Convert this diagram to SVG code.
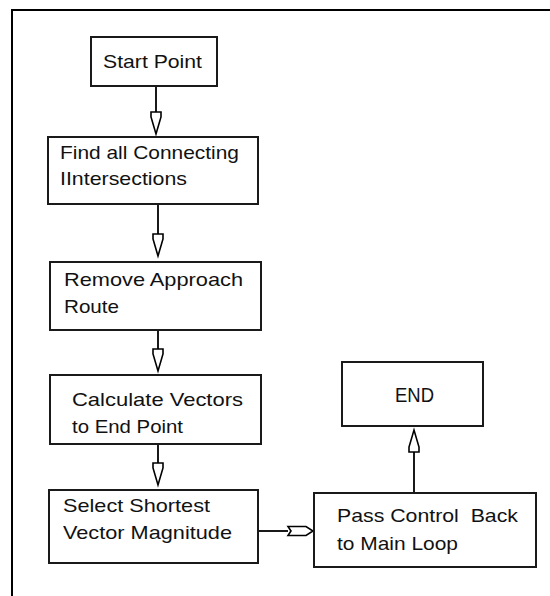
<svg xmlns="http://www.w3.org/2000/svg" width="550" height="596" viewBox="0 0 550 596">
  <style>
    .box { fill: #ffffff; stroke: #1a1a1a; stroke-width: 2; }
    .lbl { font-family: "Liberation Sans", Arial, sans-serif; font-size: 19px; fill: #111111; }
    .wire { fill: none; stroke: #000000; stroke-width: 1.8; }
    .head { fill: #ffffff; stroke: #000000; stroke-width: 1.6; stroke-linejoin: miter; }
  </style>
  <defs>
    <!-- hollow arrowhead, tip at origin, pointing down -->
    <polygon id="tipDown" class="head" points="-5,-22 5,-22 5,-17 0,0 -5,-17"/>
  </defs>

  <rect width="550" height="596" fill="#ffffff"/>
  <!-- page frame: top and left edges only -->
  <path d="M12,596 V10 H550" fill="none" stroke="#000000" stroke-width="2"/>

  <g id="connectors">
    <line class="wire" x1="156" y1="86" x2="156" y2="112"/>
    <use href="#tipDown" x="156" y="134"/>

    <line class="wire" x1="158" y1="204" x2="158" y2="234"/>
    <use href="#tipDown" x="158" y="256"/>

    <line class="wire" x1="158" y1="330" x2="158" y2="349"/>
    <use href="#tipDown" x="158" y="371"/>

    <line class="wire" x1="158" y1="444" x2="158" y2="463"/>
    <use href="#tipDown" x="158" y="485"/>

    <line class="wire" x1="258" y1="531" x2="288" y2="531"/>
    <polygon class="head" points="288,526.5 306,526.5 313,531 306,535.5 288,535.5 291,531"/>

    <line class="wire" x1="414" y1="493" x2="414" y2="452"/>
    <polygon class="head" points="409,452 419,452 419,447 414,430 409,447"/>
  </g>

  <g id="start">
    <rect class="box" x="91" y="37" width="126" height="49"/>
    <text class="lbl" x="103" y="68" textLength="99" lengthAdjust="spacingAndGlyphs">Start Point</text>
  </g>

  <g id="find">
    <rect class="box" x="48" y="137" width="210" height="67"/>
    <text class="lbl" x="60" y="159" textLength="179" lengthAdjust="spacingAndGlyphs">Find all Connecting</text>
    <text class="lbl" x="60" y="185" textLength="127" lengthAdjust="spacingAndGlyphs">IIntersections</text>
  </g>

  <g id="remove">
    <rect class="box" x="50" y="262" width="211" height="68"/>
    <text class="lbl" x="64" y="286" textLength="179" lengthAdjust="spacingAndGlyphs">Remove Approach</text>
    <text class="lbl" x="64" y="313" textLength="55" lengthAdjust="spacingAndGlyphs">Route</text>
  </g>

  <g id="calculate">
    <rect class="box" x="50" y="375" width="211" height="69"/>
    <text class="lbl" x="72" y="406" textLength="171" lengthAdjust="spacingAndGlyphs">Calculate Vectors</text>
    <text class="lbl" x="72" y="433" textLength="111" lengthAdjust="spacingAndGlyphs">to End Point</text>
  </g>

  <g id="select">
    <rect class="box" x="49" y="490" width="209" height="73"/>
    <text class="lbl" x="63" y="512" textLength="147" lengthAdjust="spacingAndGlyphs">Select Shortest</text>
    <text class="lbl" x="63" y="539" textLength="169" lengthAdjust="spacingAndGlyphs">Vector Magnitude</text>
  </g>

  <g id="end">
    <rect class="box" x="342" y="362" width="141" height="64"/>
    <text class="lbl" x="395" y="402" textLength="39" lengthAdjust="spacingAndGlyphs" style="font-size:21px">END</text>
  </g>

  <g id="pass">
    <rect class="box" x="314" y="493" width="222" height="74"/>
    <text class="lbl" x="337" y="522" textLength="181" lengthAdjust="spacingAndGlyphs" xml:space="preserve">Pass Control  Back</text>
    <text class="lbl" x="337" y="550" textLength="121" lengthAdjust="spacingAndGlyphs">to Main Loop</text>
  </g>
</svg>
